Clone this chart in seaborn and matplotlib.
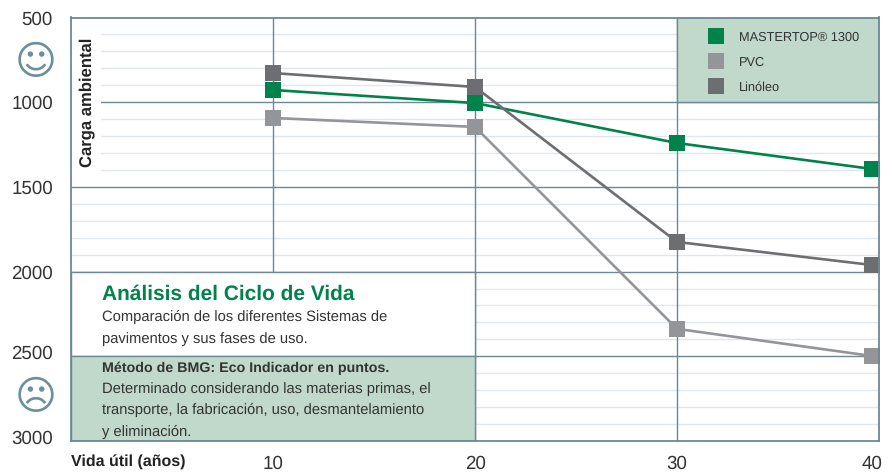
import matplotlib

matplotlib.use("Agg")
import matplotlib.pyplot as plt
import matplotlib.transforms as mtrans
import pandas as pd
import seaborn as sns
from matplotlib.lines import Line2D
from matplotlib.patches import Rectangle

# values (last points sit just inside the frame)
vida = [10, 20, 30, 39.65]
vida_labels = ["10", "20", "30", "40"]
mastertop = [928, 1005, 1241, 1394]
pvc = [1093, 1146, 2338, 2498]
linoleo = [828, 910, 1825, 1961]
series_names = ["MASTERTOP® 1300", "PVC", "Linóleo"]
carga_major = [1000, 1500, 2000, 2500]
carga_ticks = [500, 1000, 1500, 2000, 2500, 3000]
carga_minor = [c for c in range(600, 3000, 100) if c % 500 != 0]

GREEN = "#00834a"
GREY = "#939598"
DARK = "#6d6e71"
PALE = "#c0d9ca"
FRAME = "#6a8898"
MINOR = "#e0e7ec"
TEXT = "#333333"

df = pd.DataFrame(
    {
        "vida": vida * 3,
        "carga": mastertop + pvc + linoleo,
        "sistema": [n for n in series_names for _ in vida],
    }
)

sns.set_style("white")
plt.rcParams["font.family"] = ["Liberation Sans", "DejaVu Sans"]
plt.rcParams["text.hinting"] = "none"

W, H = 892, 472
fig = plt.figure(figsize=(W / 100, H / 100), dpi=100)
ax = fig.add_axes([71 / W, 1 - 441 / H, (879 - 71) / W, (441 - 17.5) / H])
ax.set_xlim(0, 40)
ax.set_ylim(3000, 500)

# grid
ax.hlines(carga_minor, 0, 40, color=MINOR, lw=1.0, zorder=1)
ax.hlines(carga_major, 0, 40, color=FRAME, lw=1.0, zorder=2)
ax.vlines([10, 20, 30], 500, 3000, color=FRAME, lw=1.0, zorder=2)

# boxes over the grid
ax.add_patch(Rectangle((0, 500), 1.47, 985, fc="white", ec="none", zorder=3))
ax.add_patch(Rectangle((0, 2000), 20, 500, fc="white", ec=FRAME, lw=1.0, zorder=3))
ax.add_patch(Rectangle((0, 2500), 20, 500, fc=PALE, ec=FRAME, lw=1.0, zorder=3))
ax.add_patch(Rectangle((30, 500), 10, 500, fc=PALE, ec=FRAME, lw=1.0, zorder=3))

palette = dict(zip(series_names, [GREEN, GREY, DARK]))
sns.lineplot(
    data=df,
    x="vida",
    y="carga",
    hue="sistema",
    hue_order=series_names,
    palette=palette,
    marker="s",
    markersize=11.5,
    markeredgewidth=0,
    linewidth=1.9,
    legend=False,
    errorbar=None,
    ax=ax,
    zorder=5,
)
for line in ax.get_lines():
    line.set_clip_on(False)

ax.set_xlabel("")
ax.set_ylabel("")
for s in ax.spines.values():
    s.set_color(FRAME)
    s.set_linewidth(1.3)
    s.set_zorder(6)

ax.set_xticks(vida, vida_labels)
ax.set_yticks(carga_ticks)
ax.tick_params(axis="both", length=0, labelsize=13.5, labelcolor=TEXT)
ax.tick_params(axis="x", pad=10)
ax.tick_params(axis="y", pad=13)
# the two lowest labels sit a little above their lines
for lab, val in zip(ax.get_yticklabels(), carga_ticks):
    if val >= 2500:
        up = mtrans.ScaledTranslation(0, 4 / 100, fig.dpi_scale_trans)
        lab.set_transform(lab.get_transform() + up)


def px(x, y):
    return x / W, 1 - y / H


# legend
handles = [
    Line2D([], [], ls="none", marker="s", ms=12, mew=0, color=palette[n])
    for n in series_names
]
leg = fig.legend(
    handles,
    series_names,
    loc="upper left",
    bbox_to_anchor=px(703.5, 31),
    frameon=False,
    fontsize=9.15,
    labelcolor=TEXT,
    handletextpad=0.8,
    labelspacing=1.02,
    borderpad=0,
    borderaxespad=0,
    handlelength=2,
)
leg.set_zorder(10)

# side label and text blocks
fig.text(*px(87, 102), "Carga ambiental", rotation=90, fontsize=12, fontweight="bold",
         color="#222222", ha="center", va="center")
fig.text(*px(71, 462), "Vida útil (años)", fontsize=11.5, fontweight="bold",
         color="#222222", ha="left", va="center")
fig.text(*px(102, 294), "Análisis del Ciclo de Vida", fontsize=15, fontweight="bold",
         color=GREEN, ha="left", va="center")
body = [
    (317, "Comparación de los diferentes Sistemas de", "normal", 10.6),
    (339, "pavimentos y sus fases de uso.", "normal", 10.6),
    (368, "Método de BMG: Eco Indicador en puntos.", "bold", 10.3),
    (389, "Determinado considerando las materias primas, el", "normal", 10.6),
    (410, "transporte, la fabricación, uso, desmantelamiento", "normal", 10.6),
    (432, "y eliminación.", "normal", 10.6),
]
for y, txt, weight, size in body:
    fig.text(*px(102, y), txt, fontsize=size, fontweight=weight, color=TEXT,
             ha="left", va="center")

# faces
for y, face in [(63, "☺"), (398, "☹")]:
    fig.text(*px(35.5, y), face, fontsize=29, color="#6a8f9e", family="DejaVu Sans",
             ha="center", va="center")

fig.savefig("out.png", dpi=100)
plt.close(fig)
